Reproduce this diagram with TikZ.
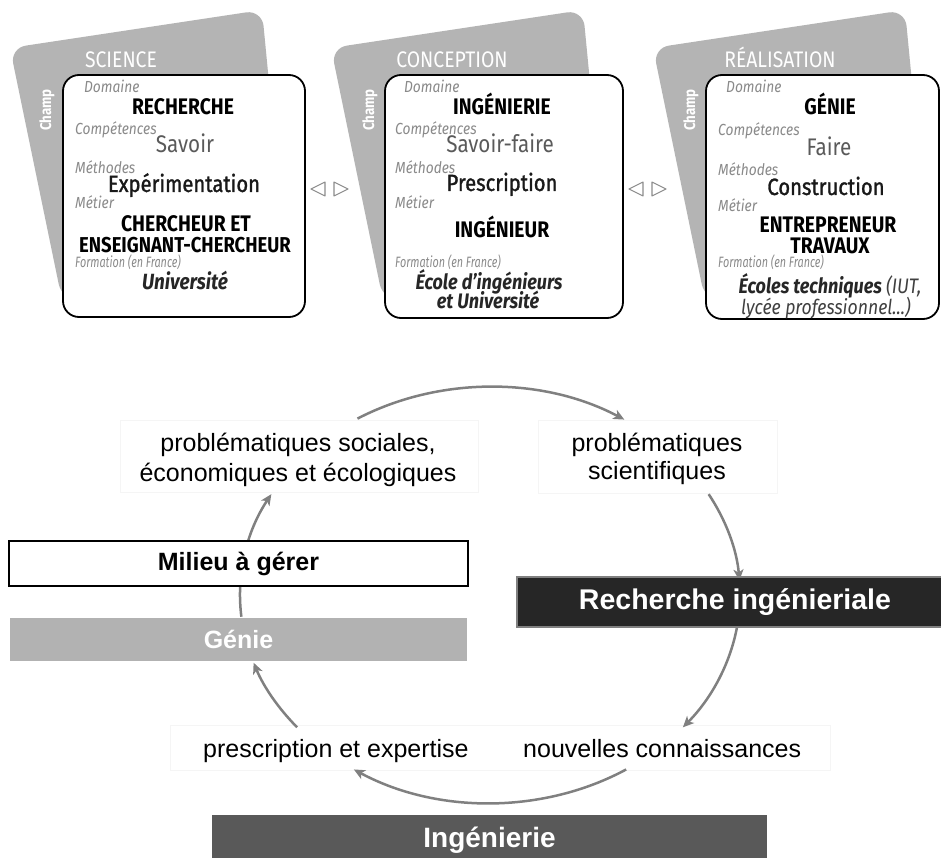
\documentclass[tikz,border=0pt]{standalone}
\usepackage{fontspec}
\setmainfont{Liberation Sans}
\newfontfamily\topf[FakeStretch=0.86]{Fira Sans}
\newfontfamily\topn[FakeStretch=0.72]{Fira Sans}
\newfontfamily\topmed[FakeStretch=0.86,FakeBold=1.2]{Fira Sans}
\usetikzlibrary{arrows.meta,calc}
\definecolor{cardc}{HTML}{B4B4B4}
\definecolor{labc}{HTML}{8A8A8A}
\definecolor{compc}{HTML}{5A5A5A}
\definecolor{arcc}{HTML}{808080}
\definecolor{tric}{HTML}{8C8C8C}
\definecolor{geniec}{HTML}{B2B2B2}
\definecolor{rechc}{HTML}{262626}
\definecolor{ingc}{HTML}{595959}
\definecolor{faintc}{HTML}{F5F5F5}
\tikzset{
  slab/.style={anchor=base west, inner sep=0pt, text=labc, font=\topf\itshape\fontsize{16}{16}\selectfont},
  sfor/.style={anchor=base west, inner sep=0pt, text=labc, font=\topn\itshape\fontsize{15}{15}\selectfont},
  sbig/.style={anchor=base, inner sep=0pt, font=\topf\bfseries\fontsize{22.5}{22.5}\selectfont},
  smed/.style={anchor=base, inner sep=0pt, text=black!90, font=\topmed\fontsize{23.5}{23.5}\selectfont},
  scomp/.style={anchor=base, inner sep=0pt, text=compc, font=\topf\fontsize{24}{24}\selectfont},
  sform/.style={anchor=base, inner sep=0pt, text=black!85, font=\topf\bfseries\itshape\fontsize{22}{22}\selectfont},
  slight/.style={anchor=base, inner sep=0pt, text=black!75, font=\topf\itshape\fontsize{20.5}{20.5}\selectfont},
  scard/.style={fill=cardc, rounded corners=16pt},
  sttl/.style={anchor=base, inner sep=0pt, text=white, font=\topf\fontsize{22.5}{22.5}\selectfont},
  schamp/.style={rotate=90, inner sep=0pt, text=white, font=\topf\bfseries\fontsize{15.5}{15.5}\selectfont},
  sbox/.style={draw=black, line width=1.8pt, fill=white, rounded corners=16pt},
  stri/.style={draw=tric, line width=1.1pt, line join=round},
  scyc/.style={draw=arcc, line width=2.5pt, -{Stealth[length=11pt,width=10pt,inset=3pt]}},
  stxt/.style={anchor=base, inner sep=0pt, font=\fontsize{25}{25}\selectfont},
  sfaint/.style={draw=faintc, line width=0.8pt, fill=white},
  sbar/.style={inner sep=0pt, text=white, font=\bfseries\fontsize{25}{25}\selectfont},
}
\begin{document}
\begin{tikzpicture}[x=1pt,y=1pt]
\useasboundingbox (0,0) rectangle (941,-858);
\fill[white] (0,0) rectangle (941,-858);

% ---------- grey cards ----------
\foreach \dx in {0,321,643}{
  \fill[scard,shift={(\dx,0)}] (10,-48) -- (262,-10) -- (290,-300) -- (62,-300) -- cycle;
}
\node[sttl] (ttl1) at (121,-68) {SCIENCE};
\node[sttl] (ttl2) at (452,-68) {CONCEPTION};
\node[sttl] (ttl3) at (780,-68) {RÉALISATION};
\node[schamp] (ch1) at (47,-110) {Champ};
\node[schamp] (ch2) at (370,-110) {Champ};
\node[schamp] (ch3) at (691,-110) {Champ};

% ---------- white boxes ----------
\draw[sbox] (63,-75) rectangle (305,-317);
\draw[sbox] (385,-75) rectangle (623,-318);
\draw[sbox] (706,-75) rectangle (939,-319);

% box 1
\node[slab] (d1) at (84,-93) {Domaine};
\node[sbig] (v1) at (183,-115) {RECHERCHE};
\node[slab] (c1) at (75,-135) {Compétences};
\node[scomp] (s1) at (185,-153) {Savoir};
\node[slab] (m1) at (75,-174) {Méthodes};
\node[smed] (x1) at (184,-192) {Expérimentation};
\node[slab] (t1) at (75,-209) {Métier};
\node[sbig] (j1a) at (186,-232) {CHERCHEUR ET};
\node[sbig, font=\topf\bfseries\fontsize{21.5}{21.5}\selectfont] (j1b) at (185,-253) {ENSEIGNANT-CHERCHEUR};
\node[sfor] (f1) at (75,-268) {Formation (en France)};
\node[sform] (u1) at (185,-289) {Université};

% box 2
\node[slab] (d2) at (404,-93) {Domaine};
\node[sbig] (v2) at (502,-115) {INGÉNIERIE};
\node[slab] (c2) at (395,-135) {Compétences};
\node[scomp] (s2) at (500,-153) {Savoir-faire};
\node[slab] (m2) at (395,-174) {Méthodes};
\node[smed] (x2) at (502,-191) {Prescription};
\node[slab] (t2) at (395,-209) {Métier};
\node[sbig] (j2) at (502,-238) {INGÉNIEUR};
\node[sfor] (f2) at (395,-268) {Formation (en France)};
\node[sform, font=\topf\bfseries\itshape\fontsize{21}{21}\selectfont] (u2a) at (489,-289) {École d’ingénieurs};
\node[sform, font=\topf\bfseries\itshape\fontsize{21}{21}\selectfont] (u2b) at (488,-308) {et Université};

% box 3
\node[slab] (d3) at (726,-93) {Domaine};
\node[sbig] (v3) at (830,-115) {GÉNIE};
\node[slab] (c3) at (718,-136) {Compétences};
\node[scomp] (s3) at (829,-156) {Faire};
\node[slab] (m3) at (718,-176) {Méthodes};
\node[smed] (x3) at (826,-195) {Construction};
\node[slab] (t3) at (718,-212) {Métier};
\node[sbig] (j3a) at (828,-233) {ENTREPRENEUR};
\node[sbig] (j3b) at (830,-254) {TRAVAUX};
\node[sfor] (f3) at (718,-268) {Formation (en France)};
\node[sform, font=\topf\bfseries\itshape\fontsize{21}{21}\selectfont] (u3a) at (830,-293) {Écoles techniques {\mdseries\color{black!75}(IUT,}};
\node[slight] (u3b) at (826,-314) {lycée professionnel...)};

% triangles between boxes
\foreach \dx in {0,318}{
  \draw[stri,shift={(\dx,0)}] (311,-189) -- (325,-182) -- (325,-196) -- cycle;
  \draw[stri,shift={(\dx,0)}] (348,-189) -- (334,-182) -- (334,-196) -- cycle;
}

% ---------- cycle ----------
\node[sfaint, minimum width=358pt, minimum height=72pt, anchor=north west] (fl) at (120,-420) {};
\node[sfaint, minimum width=239pt, minimum height=73pt, anchor=north west] (fr) at (538,-420) {};
\node[sfaint, minimum width=660pt, minimum height=45pt, anchor=north west] (fb) at (170,-725) {};

\node[stxt] (pl1) at (298,-451) {problématiques sociales,};
\node[stxt] (pl2) at (298,-481) {économiques et écologiques};
\node[stxt] (pr1) at (657,-451) {problématiques};
\node[stxt] (pr2) at (657,-479) {scientifiques};
\node[stxt, anchor=base west] (pe) at (203,-757) {prescription et expertise};
\node[stxt, anchor=base west] (nc) at (523,-757) {nouvelles connaissances};

\coordinate (ctr) at (490,-595);
\coordinate (a1) at ($(ctr)+(122:250pt and 208pt)$);
\coordinate (a2) at ($(ctr)+(29:250pt and 208pt)$);
\coordinate (a3) at ($(ctr)+(-9:250pt and 208pt)$);
\coordinate (a4) at ($(ctr)+(-57:250pt and 208pt)$);
\coordinate (a5) at ($(ctr)+(-140.5:250pt and 208pt)$);
\coordinate (a6) at ($(ctr)+(186:250pt and 208pt)$);

\draw[scyc] (a1) arc[start angle=122, end angle=57.5, x radius=250pt, y radius=208pt];
\draw[scyc] (a2) arc[start angle=29, end angle=4, x radius=250pt, y radius=208pt];
\draw[scyc] (a3) arc[start angle=-9, end angle=-39.5, x radius=250pt, y radius=208pt];
\draw[scyc] (a4) arc[start angle=-57, end angle=-123, x radius=250pt, y radius=208pt];
\draw[scyc] (a5) arc[start angle=-140.5, end angle=-161, x radius=250pt, y radius=208pt];
\draw[scyc] (a6) arc[start angle=186, end angle=151, x radius=250pt, y radius=208pt];

\node[draw=black, line width=1.4pt, fill=white, inner sep=0pt, minimum width=459pt, minimum height=45pt, font=\bfseries\fontsize{25}{25}\selectfont] (mil) at (238.5,-563.5) {Milieu à gérer};
\node[sbar, fill=geniec, minimum width=457pt, minimum height=43pt] (gen) at (238.5,-639.5) {Génie};
\node[sbar, fill=rechc, draw=arcc, line width=1.8pt, minimum width=436pt, minimum height=50pt, font=\bfseries\fontsize{28.5}{28.5}\selectfont] (rech) at (735,-602) {Recherche ingénieriale};
\node[sbar, fill=ingc, minimum width=555pt, minimum height=50pt, font=\bfseries\fontsize{28}{28}\selectfont] (ing) at (489.5,-840) {Ingénierie};
\end{tikzpicture}
\end{document}
